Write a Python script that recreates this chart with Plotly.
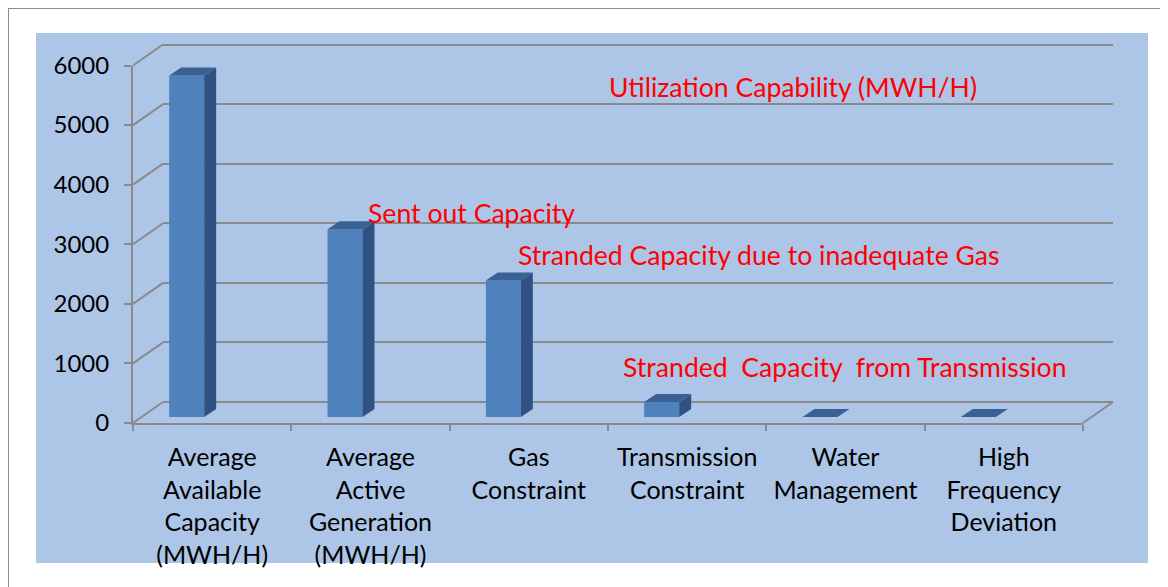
import plotly.graph_objects as go

# ---- data ----
categories = [
    "Average<br>Available<br>Capacity<br>(MWH/H)",
    "Average<br>Active<br>Generation<br>(MWH/H)",
    "Gas<br>Constraint",
    "Transmission<br>Constraint",
    "Water<br>Management",
    "High<br>Frequency<br>Deviation",
]
values = [5730, 3150, 2290, 250, 0, 0]
y_ticks = [0, 1000, 2000, 3000, 4000, 5000, 6000]
notes = [
    "Utilization Capability (MWH/H)",
    "Sent out Capacity",
    "Stranded Capacity due to inadequate Gas",
    "Stranded\u00a0 Capacity\u00a0 from Transmission",
]

# ---- layout geometry (pixels of the page) ----
W, H = 1168, 587
OFF = 8  # page body margin
FONT = "Lato"
GRID = "#8a8a8a"
FRONT = "#4f81bd"
SIDE = "#2f5282"
TOP = "#3a6194"


def fx(p):
    return (p - OFF) / W


def fy(p):
    return 1 - (p - OFF) / H


YMAX = 6000
front_x = (133, 1083)
front_y0 = 423
plot_h = 357.5
back_dx, back_dy = 30, 21
bar_dx_shift = -25.5
bar_y0 = 417
depth_px_x, depth_px_y = 12, 8
bar_w = 0.221

cat_px = (front_x[1] - front_x[0]) / len(categories)
depth_x = depth_px_x / cat_px
depth_y = depth_px_y * YMAX / plot_h

fig = go.Figure()

# hidden trace to define front categorical axis
fig.add_trace(go.Scatter(x=categories, y=[0] * len(categories), mode="markers",
                         marker=dict(opacity=0), hoverinfo="skip", showlegend=False,
                         xaxis="x", yaxis="y"))

xs = list(range(len(values)))
# front faces
fig.add_trace(go.Bar(x=xs, y=values, width=bar_w, marker=dict(color=FRONT, line=dict(width=0)),
                     xaxis="x3", yaxis="y3", showlegend=False, hoverinfo="skip"))
# side + top faces
for xi, v in zip(xs, values):
    r = xi + bar_w / 2
    l = xi - bar_w / 2
    if v > 0:
        fig.add_trace(go.Scatter(x=[r, r + depth_x, r + depth_x, r, r], y=[0, depth_y, v + depth_y, v, 0],
                                 fill="toself", fillcolor=SIDE, line=dict(width=0), mode="lines",
                                 xaxis="x3", yaxis="y3", showlegend=False, hoverinfo="skip"))
    fig.add_trace(go.Scatter(x=[l, r, r + depth_x, l + depth_x, l], y=[v, v, v + depth_y, v + depth_y, v],
                             fill="toself", fillcolor=TOP, line=dict(width=0), mode="lines",
                             xaxis="x3", yaxis="y3", showlegend=False, hoverinfo="skip"))

# dummy trace so the back-wall grid renders
fig.add_trace(go.Scatter(x=[0], y=[0], mode="markers", marker=dict(opacity=0), xaxis="x2", yaxis="y2",
                         hoverinfo="skip", showlegend=False))

shapes = []
# background
shapes.append(dict(type="rect", xref="paper", yref="paper", x0=fx(36), x1=fx(1148), y0=fy(563), y1=fy(33),
                   fillcolor="#adc5e7", line=dict(width=0), layer="below"))
# outer border (top & left)
shapes.append(dict(type="line", xref="paper", yref="paper", x0=fx(8), x1=fx(1180), y0=fy(8), y1=fy(8),
                   line=dict(color="#8c8c8c", width=2), layer="below"))
shapes.append(dict(type="line", xref="paper", yref="paper", x0=fx(8), x1=fx(8), y0=fy(8), y1=fy(600),
                   line=dict(color="#8c8c8c", width=2), layer="below"))
# side wall diagonals
for t in y_ticks:
    py = front_y0 - t * plot_h / YMAX
    shapes.append(dict(type="line", xref="paper", yref="paper", x0=fx(front_x[0]), y0=fy(py),
                       x1=fx(front_x[0] + back_dx), y1=fy(py - back_dy),
                       line=dict(color=GRID, width=2), layer="between"))
# floor right diagonal
shapes.append(dict(type="line", xref="paper", yref="paper", x0=fx(front_x[1]), y0=fy(front_y0),
                   x1=fx(front_x[1] + back_dx), y1=fy(front_y0 - back_dy),
                   line=dict(color=GRID, width=2), layer="between"))

ann_pos = [(607, 87), (366, 213), (516, 255), (621, 367)]
annotations = []
for txt, (px, py) in zip(notes, ann_pos):
    annotations.append(dict(text=txt, xref="paper", yref="paper", x=fx(px), y=fy(py),
                            xanchor="left", yanchor="middle", showarrow=False,
                            font=dict(family=FONT, size=26.6, color="#ff0000")))

eps = 60  # small padding so edge grid lines of the back wall are drawn
eps_px = eps * plot_h / YMAX
fig.update_layout(
    width=W, height=H, margin=dict(l=0, r=0, t=0, b=0, autoexpand=False),
    paper_bgcolor="white", plot_bgcolor="rgba(0,0,0,0)",
    showlegend=False, shapes=shapes, annotations=annotations,
    font=dict(family=FONT, color="black"),
    xaxis=dict(domain=[fx(front_x[0]), fx(front_x[1])], type="category", range=[-0.5, 5.5],
               showline=True, linecolor=GRID, linewidth=2, ticks="outside", ticklen=6,
               tickcolor=GRID, tickwidth=2, tickson="boundaries", showgrid=False, zeroline=False,
               ticklabelstandoff=11, automargin=False,
               tickfont=dict(family=FONT, size=25, color="black"), fixedrange=True),
    yaxis=dict(domain=[fy(front_y0), fy(front_y0 - plot_h)], range=[0, YMAX],
               tickvals=y_ticks, showline=True, linecolor=GRID, linewidth=2,
               ticks="outside", ticklen=7, tickcolor=GRID, tickwidth=2, showgrid=False,
               zeroline=False, ticklabelstandoff=10, automargin=False,
               tickfont=dict(family=FONT, size=24, color="black"), fixedrange=True),
    xaxis2=dict(domain=[fx(front_x[0] + back_dx), fx(front_x[1] + back_dx)], range=[0, 1],
                visible=False, anchor="y2", automargin=False),
    yaxis2=dict(domain=[fy(front_y0 - back_dy + eps_px),
                        fy(front_y0 - back_dy - plot_h - eps_px)],
                range=[-eps, YMAX + eps],
                tickvals=y_ticks, showgrid=True, gridcolor=GRID, gridwidth=2, zeroline=False,
                showticklabels=False, ticks="", showline=False, anchor="x2", automargin=False),
    xaxis3=dict(domain=[fx(front_x[0] + bar_dx_shift), fx(front_x[1] + bar_dx_shift)],
                range=[-0.5, 5.5], visible=False, anchor="y3", automargin=False),
    yaxis3=dict(domain=[fy(bar_y0), fy(bar_y0 - plot_h)], range=[0, YMAX], visible=False,
                anchor="x3", automargin=False),
)

fig.write_html("out.html")
